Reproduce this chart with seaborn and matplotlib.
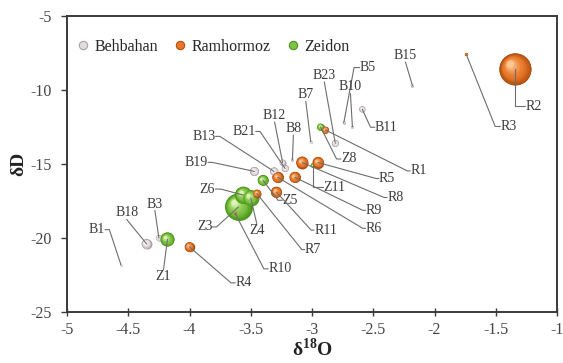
import numpy as np
import pandas as pd
import matplotlib
matplotlib.use("Agg")
import matplotlib.pyplot as plt
import seaborn as sns
from matplotlib.transforms import ScaledTranslation
from matplotlib.colors import to_rgb
from matplotlib.lines import Line2D
from matplotlib.ticker import FuncFormatter

# ---- data -------------------------------------------------------------
labels = ['B1', 'B3', 'B5', 'B7', 'B8', 'B10', 'B11', 'B12', 'B13', 'B15',
          'B18', 'B19', 'B21', 'B23',
          'R1', 'R2', 'R3', 'R4', 'R5', 'R6', 'R7', 'R8', 'R9', 'R10', 'R11',
          'Z1', 'Z3', 'Z4', 'Z5', 'Z6', 'Z8', 'Z11']
site = ['Behbahan'] * 14 + ['Ramhormoz'] * 11 + ['Zeidon'] * 7
d18o = [-4.56, -4.25, -2.74, -3.01, -3.16, -2.67, -2.59, -3.24, -3.31, -2.18,
        -4.35, -3.47, -3.22, -2.81,
        -2.89, -1.34, -1.74, -4.00, -2.95, -3.28, -3.45, -3.08, -3.14, -3.63, -3.29,
        -4.18, -3.60, -3.50, -3.40, -3.56, -2.93, -2.99]
dD = [-21.8, -20.0, -12.2, -13.5, -14.7, -12.5, -11.3, -14.9, -15.5, -9.7,
      -20.4, -15.5, -15.3, -13.6,
      -12.7, -8.6, -7.6, -20.6, -14.9, -15.9, -17.0, -14.9, -15.9, -18.3, -16.9,
      -20.1, -17.9, -17.3, -16.1, -17.1, -12.5, -15.1]
bubble = [1, 9, 1.5, 1.5, 1.5, 1.5, 9, 9, 16, 1.5,
          25, 20, 12, 12,
          12, 256, 2.5, 23, 32, 30, 16, 36, 30, 2, 30,
          49, 182, 64, 28, 72, 12, 6]

sites = ['Behbahan', 'Ramhormoz', 'Zeidon']
# (rim, body, highlight) colours of the shaded bubbles
shade = {'Behbahan': ('#ac9fa8', '#e2dbe0', '#ffffff'),
         'Ramhormoz': ('#b0500f', '#e8782a', '#fcc892'),
         'Zeidon': ('#4a951a', '#7dc242', '#daf5b2')}

# label placement: offset in pixels (x, y up), side of the text the leader
# leaves from, and length of the short arm next to the text
layout = {
    'R2': (18, -37, 'L', 'corner'), 'R3': (42, -72, 'L', 7),
    'B15': (-7, 30, 'B', 0), 'B5': (24, 55, 'L', 8), 'B10': (-2, 40, 'B', 0),
    'B11': (24, -18, 'L', 6), 'B23': (-11, 68, 'B', 0), 'Z8': (28, -32, 'L', 6),
    'R1': (93, -41, 'L', 4), 'B7': (-5, 47, 'B', 0), 'B8': (1, 31, 'B', 0),
    'B12': (-8, 47, 'B', 0), 'B21': (-41, 37, 'R', 6), 'B13': (-70, 35, 'R', 6),
    'B19': (-58, 9, 'R', 6), 'R5': (69, -16, 'L', 4), 'R8': (93, -35, 'L', 4),
    'R9': (79, -33, 'L', 4), 'R6': (96, -51, 'L', 4), 'Z11': (21, -22, 'L', 'corner'),
    'R11': (49, -38, 'L', 4), 'R7': (56, -56, 'L', 4), 'Z5': (27, -20, 'L', 6),
    'Z6': (-36, 6, 'R', 8), 'Z3': (-34, -20, 'R', 6), 'Z4': (6, -32, 'T', 0),
    'R10': (45, -56, 'L', 6), 'R4': (54, -36, 'L', 6), 'Z1': (-4, -37, 'T', 0),
    'B3': (-4, 34, 'B', 0), 'B18': (-20, 31, 'B', 0), 'B1': (-24, 35, 'R', 6),
}

# ---- style ------------------------------------------------------------
sns.set_style("white")
plt.rcParams['font.family'] = ['Liberation Serif', 'DejaVu Serif']
plt.rcParams['axes.unicode_minus'] = False
plt.rcParams['mathtext.fontset'] = 'custom'
plt.rcParams['mathtext.rm'] = 'Liberation Serif'
plt.rcParams['mathtext.bf'] = 'Liberation Serif:bold'

fig = plt.figure(figsize=(5.63, 3.63), dpi=100)
ax = fig.add_axes([67 / 563, 1 - 312 / 363, 490 / 563, 296 / 363])

df = pd.DataFrame({'label': labels, 'site': site, 'd18O': d18o, 'dD': dD,
                   'bubble': bubble})
draw_order = ['Behbahan', 'Zeidon', 'Ramhormoz']
df = (df.assign(_k=df['site'].map(draw_order.index))
        .sort_values(['_k', 'bubble'], ascending=[True, False], kind='stable')
        .reset_index(drop=True))

smax = (2 * 16 * 0.72) ** 2
sns.scatterplot(data=df, x='d18O', y='dD', hue='site', size='bubble',
                palette={k: v[0] for k, v in shade.items()},
                sizes=(0, smax), size_norm=(0, 256), linewidth=0,
                legend=False, ax=ax, zorder=2)
base = ax.collections[-1]
marker_area = base.get_sizes()

# shaded spheres: shrinking discs moving towards the upper-left highlight
N = 14
for i, row in df.iterrows():
    r_pt = np.sqrt(marker_area[i]) / 2
    dark, mid, light = (np.array(to_rgb(c)) for c in shade[row['site']])
    for k in range(N):
        f = k / (N - 1)
        rad = r_pt * (1 - 0.8 * f)
        off = 0.33 * r_pt * f
        if f < 0.4:
            col = dark + (mid - dark) * (f / 0.4)
        else:
            col = mid + (light - mid) * ((f - 0.4) / 0.6) ** 1.6
        tr = ax.transData + ScaledTranslation(-off / 72, off / 72, fig.dpi_scale_trans)
        ax.scatter([row['d18O']], [row['dD']], s=(2 * rad) ** 2, color=col,
                   linewidths=0, transform=tr, zorder=2)

# point labels with leader lines
relpos_of = {'L': (0, 0.5), 'R': (1, 0.5), 'T': (0.5, 1), 'B': (0.5, 0)}
for _, row in df.iterrows():
    dx, dy, side, arm = layout[row['label']]
    if arm == 'corner':
        cs = 'angle,angleA=0,angleB=90,rad=0'
    elif arm == 0:
        cs = 'arc3,rad=0'
    else:
        ang = 180 if side == 'L' else 0
        cs = f'arc,angleA={ang},armA={arm * 0.72:.2f},angleB=0,armB=0,rad=0'
    ax.annotate(row['label'], xy=(row['d18O'], row['dD']), xytext=(dx, dy),
                textcoords='offset pixels', ha='center', va='center',
                fontsize=10, color='#3a3a3a', zorder=4,
                arrowprops=dict(arrowstyle='-', color='#6e6e6e', lw=0.8,
                                relpos=relpos_of[side], connectionstyle=cs,
                                shrinkA=0, shrinkB=0, patchA=None))

# ---- axes -------------------------------------------------------------
ax.set_xlim(-5, -1)
ax.set_ylim(-25, -5)
ax.set_xticks(np.arange(-5, -0.99, 0.5))
ax.set_yticks(np.arange(-25, -4.99, 5))
fmt = FuncFormatter(lambda v, p: f'{v:g}')
ax.xaxis.set_major_formatter(fmt)
ax.yaxis.set_major_formatter(fmt)
ax.tick_params(axis='x', bottom=True, direction='inout', length=6, width=1,
               color='#3a3a3a', labelcolor='#444444', labelsize=11.5, pad=4)
ax.tick_params(axis='y', left=True, direction='out', length=4, width=1,
               color='#3a3a3a', labelcolor='#444444', labelsize=11.5, pad=7)
for sp in ax.spines.values():
    sp.set_visible(True)
    sp.set_color('#3a3a3a')
    sp.set_linewidth(1.4)

ax.set_xlabel(r'δ$^{\mathbf{18}}$O', fontsize=14, fontweight='bold',
              color='#222222', labelpad=0)
ax.set_ylabel('δD', fontsize=14, fontweight='bold', color='#222222', labelpad=2)

handles = [Line2D([], [], ls='', marker='o', markersize=6,
                  markerfacecolor=shade[s][1], markeredgecolor=shade[s][0],
                  markeredgewidth=0.8) for s in sites]
ax.legend(handles, sites, loc='upper left', bbox_to_anchor=(0.0, 0.955), ncol=3,
          frameon=False, fontsize=11.5, handlelength=0.8, handletextpad=0.3,
          columnspacing=1.0, borderaxespad=0.2)

fig.savefig('out.png', dpi=100)
